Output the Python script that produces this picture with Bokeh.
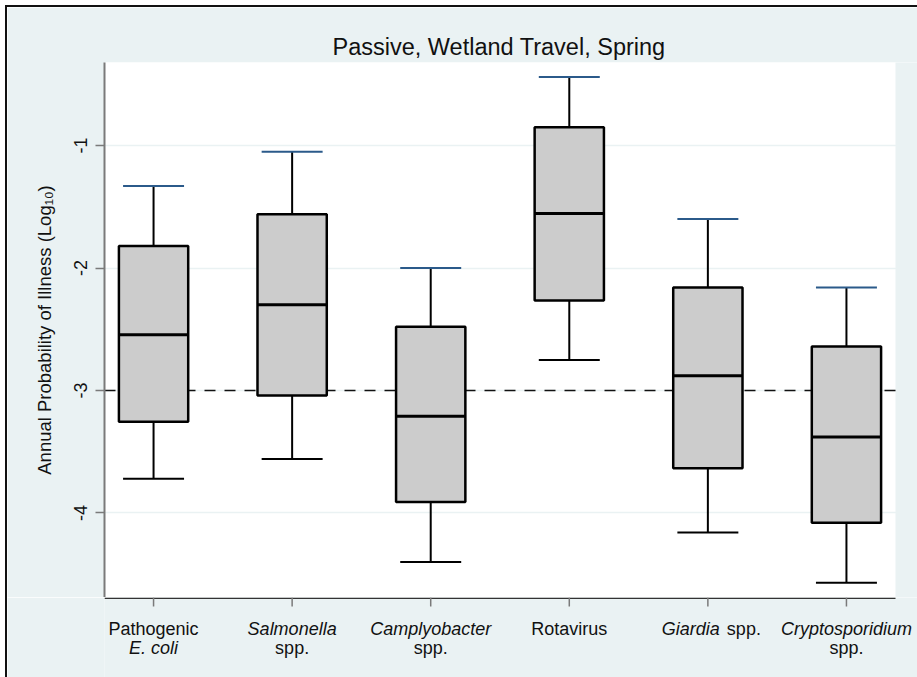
from bokeh.plotting import figure
from bokeh.layouts import column
from bokeh.models import Range1d, FixedTicker, ColumnDataSource
from bokeh.embed import file_html
from bokeh.resources import INLINE

# Pathogen categories and their box-plot summaries (log10 annual probability of illness)
pathogens = ["Pathogenic E. coli", "Salmonella spp.", "Camplyobacter spp.",
             "Rotavirus", "Giardia spp.", "Cryptosporidium spp."]
upper_whisker = [-1.33, -1.05, -2.00, -0.44, -1.60, -2.16]
q3 = [-1.82, -1.56, -2.48, -0.85, -2.16, -2.64]
median = [-2.545, -2.30, -3.21, -1.555, -2.88, -3.38]
q1 = [-3.255, -3.04, -3.91, -2.265, -3.635, -4.08]
lower_whisker = [-3.72, -3.56, -4.40, -2.75, -4.16, -4.57]
benchmark = -3.0
y_ticks = [-4, -3, -2, -1]
y_tick_labels = ["-4", "-3", "-2", "-1"]

# category label pieces: line number, category, text, font style
label_line = [0, 1, 0, 1, 0, 1, 0, 0, 0, 0, 1]
label_cat = [1, 1, 2, 2, 3, 3, 4, 5, 5, 6, 6]
label_text = ["Pathogenic", "E. coli", "Salmonella", "spp.", "Camplyobacter", "spp.",
              "Rotavirus", "Giardia", "spp.", "Cryptosporidium", "spp."]
label_style = ["normal", "italic", "italic", "normal", "italic", "normal",
               "normal", "italic", "normal", "italic", "normal"]

FONT = "Liberation Sans"
BG = "#eaf2f3"
TXT = "#111111"

xs = list(range(1, len(pathogens) + 1))
x_lo, x_hi = 0.646, 6.354          # visible plot region
y_lo, y_hi = -4.690, -0.322

W, H = 910, 670
B_LEFT, B_TOP = 97, 55
PLOT_W = 791                       # width of the white plotting region
MAIN_H = 590
px_per_x = PLOT_W / (x_hi - x_lo)
x_end = x_lo + (W - B_LEFT) / px_per_x   # frame runs to the right edge

p = figure(width=W, height=MAIN_H, output_backend="svg", toolbar_location=None,
           x_range=Range1d(x_lo, x_end), y_range=Range1d(y_lo, y_hi),
           min_border_left=B_LEFT, min_border_right=0, min_border_top=B_TOP,
           min_border_bottom=0)
p.border_fill_color = BG
p.background_fill_color = "white"
p.outline_line_color = None
p.xaxis.visible = False

p.title.text = "Passive, Wetland Travel, Spring"
p.title.align = "left"
p.title.offset = 228
p.title.text_font = FONT
p.title.text_font_size = "23.5px"
p.title.text_font_style = "normal"
p.title.text_color = TXT
p.title.standoff = 5

# grid
p.xgrid.grid_line_color = None
p.ygrid.ticker = FixedTicker(ticks=y_ticks)
p.ygrid.grid_line_color = BG
p.ygrid.grid_line_width = 1.5

# y axis
yax = p.yaxis[0]
yax.ticker = FixedTicker(ticks=y_ticks)
yax.major_label_overrides = dict(zip(y_ticks, y_tick_labels))
yax.axis_label = "Annual Probability of Illness (Log\u2081\u2080)"
yax.axis_label_text_font = FONT
yax.axis_label_text_font_size = "18.5px"
yax.axis_label_text_font_style = "normal"
yax.axis_label_text_color = TXT
yax.axis_label_standoff = 17
yax.major_label_orientation = "vertical"
yax.major_label_text_font = FONT
yax.major_label_text_font_size = "18px"
yax.major_label_text_color = TXT
yax.major_label_standoff = 8
yax.axis_line_color = "#7a7a7a"
yax.axis_line_width = 2
yax.major_tick_line_color = "#7a7a7a"
yax.major_tick_line_width = 1.5
yax.major_tick_in = 0
yax.major_tick_out = 9
yax.minor_tick_line_color = None

# margin to the right of the plotting region
p.quad(left=[x_hi], right=[x_end + 1], bottom=[y_lo - 1], top=[y_hi + 1],
       fill_color=BG, line_color=None)

# reference line at -3 (under the boxes)
p.segment(x0=[x_lo], y0=[benchmark], x1=[x_hi], y1=[benchmark], line_color=TXT,
          line_width=1.7, line_dash="11 9")

# whiskers and caps
cap = 0.22
p.segment(x0=xs, y0=q3, x1=xs, y1=upper_whisker, line_color="black", line_width=2)
p.segment(x0=xs, y0=q1, x1=xs, y1=lower_whisker, line_color="black", line_width=2)
p.segment(x0=[x - cap for x in xs], y0=upper_whisker, x1=[x + cap for x in xs],
          y1=upper_whisker, line_color="#2b5a8a", line_width=2)
p.segment(x0=[x - cap for x in xs], y0=lower_whisker, x1=[x + cap for x in xs],
          y1=lower_whisker, line_color="black", line_width=2)

# boxes and medians
p.vbar(x=xs, width=0.5, top=q3, bottom=q1, fill_color="#cccccc",
       line_color="black", line_width=2.5)
p.segment(x0=[x - 0.25 for x in xs], y0=median, x1=[x + 0.25 for x in xs],
          y1=median, line_color="black", line_width=3)

# ---- bottom strip: x axis line, ticks and mixed-style category labels ----
STRIP_H = H - MAIN_H
q = figure(width=W, height=STRIP_H, output_backend="svg", toolbar_location=None,
           x_range=p.x_range, y_range=Range1d(STRIP_H, 0),
           min_border_left=B_LEFT, min_border_right=0, min_border_top=0,
           min_border_bottom=0)
q.border_fill_color = BG
q.background_fill_color = BG
q.outline_line_color = None
q.axis.visible = False
q.grid.visible = False

# axis line and ticks (y measured in pixels downward from the axis)
q.segment(x0=[x_lo], y0=[0.75], x1=[x_hi], y1=[0.75], line_color="#333333",
          line_width=1.5)
q.segment(x0=xs, y0=[0] * len(xs), x1=xs, y1=[9] * len(xs),
          line_color="#7a7a7a", line_width=1.5)

baselines = [31, 50]
align, offset = [], []
for cat, txt in zip(label_cat, label_text):
    if cat == 5 and txt == "Giardia":
        align.append("right"); offset.append(12)
    elif cat == 5:
        align.append("left"); offset.append(19)
    else:
        align.append("center"); offset.append(0)

src = ColumnDataSource(dict(
    x=label_cat, y=[baselines[l] for l in label_line], text=label_text,
    style=label_style, align=align, off=offset))
q.text(x="x", y="y", text="text", source=src, x_offset="off",
       text_align="align", text_baseline="alphabetic", text_font_style="style",
       text_font={"value": FONT}, text_font_size={"value": "18px"},
       text_color=TXT)

layout = column(p, q, spacing=0)
layout.styles = {"margin-left": "5px", "margin-top": "5px",
                 "border-left": "2px solid #111", "border-top": "2px solid #111"}

open("out.html", "w").write(file_html(layout, INLINE))
